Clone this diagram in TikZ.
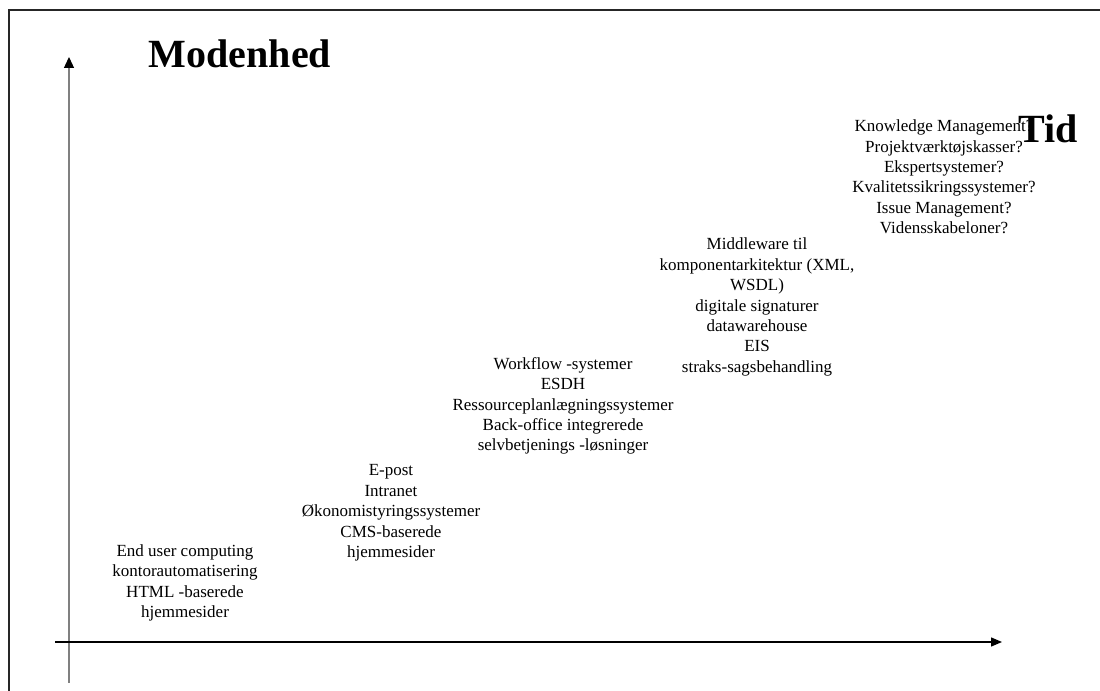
\documentclass[tikz,border=0pt]{standalone}
\usepackage{fontspec}
\setmainfont{Liberation Serif}
\usetikzlibrary{arrows.meta}
\definecolor{aksegraa}{RGB}{128,128,128}
\tikzset{
  blok/.style={align=center, inner sep=0pt, font=\fontsize{8.5}{10.2}\selectfont},
  titel/.style={inner sep=0pt, font=\fontsize{20}{24}\selectfont\bfseries},
  ramme/.style={line width=1pt, black!85},
  lodret/.style={-{Triangle[width=5pt,length=5.5pt,color=black]}, line width=0.65pt, aksegraa},
  vandret/.style={-{Triangle[width=4.5pt,length=5.5pt]}, line width=0.65pt, black},
}
\begin{document}
\begin{tikzpicture}[x=0.5pt, y=0.5pt]
  \useasboundingbox (0,0) rectangle (1100,691);
  % ramme
  \draw[ramme] (1100,681) -- (9,681) -- (9,0);
  % akser
  \coordinate (ybund) at (69,8);
  \coordinate (ytop) at (69,634);
  \coordinate (xstart) at (55,49);
  \coordinate (xslut) at (1002,49);
  \draw[lodret] (ybund) -- (ytop);
  \draw[vandret] (xstart) -- (xslut);
  \node[titel, anchor=base] (moden) at (240,623) {Modenhed};
  % trin
  \node[blok] (t1) at (185,108)
    {End user computing\\ kontorautomatisering\\ HTML -baserede\\ hjemmesider};
  \node[blok] (t2) at (391,178)
    {E-post\\ Intranet\\ Økonomistyringssystemer\\ CMS-baserede\\ hjemmesider};
  \node[blok] (t3) at (563,285)
    {Workflow -systemer\\ ESDH\\ Ressourceplanlægningssystemer\\ Back-office integrerede\\ selvbetjenings -løsninger};
  \node[blok] (t4) at (757,384)
    {Middleware til\\ komponentarkitektur (XML,\\ WSDL)\\ digitale signaturer\\ datawarehouse\\ EIS\\ straks-sagsbehandling};
  \node[blok] (t5) at (944,514)
    {Knowledge Management?\\ Projektværktøjskasser?\\ Ekspertsystemer?\\ Kvalitetssikringssystemer?\\ Issue Management?\\ Vidensskabeloner?};
  \node[titel, anchor=base west] (tid) at (1018,548) {Tid};
\end{tikzpicture}
\end{document}
